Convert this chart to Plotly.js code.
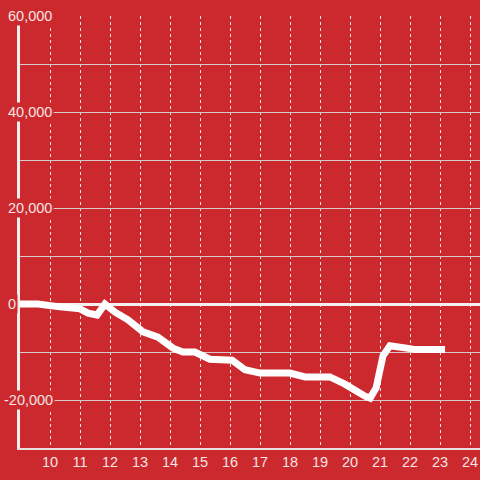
<!DOCTYPE html>
<html>
<head>
<meta charset="utf-8">
<script src="https://cdn.plot.ly/plotly-3.0.1.min.js"></script>
<style>
html,body{margin:0;padding:0;background:#cc292e;}
#chart{width:480px;height:480px;}
</style>
</head>
<body>
<div id="chart"></div>
<script>
var xs = [9.0, 9.6, 10.33, 11.0, 11.27, 11.57, 11.83, 12.17, 12.6, 13.1, 13.6, 14.1, 14.43, 14.83, 15.33, 16.07, 16.5, 17.0, 18.0, 18.5, 19.33, 19.83, 20.5, 20.67, 20.87, 21.1, 21.33, 21.73, 22.0, 22.17, 23.17];
var ys = [0, 0, -600, -1000, -1900, -2300, 0, -1700, -3300, -5800, -6900, -9200, -10000, -10000, -11500, -11700, -13700, -14400, -14400, -15200, -15200, -16700, -19200, -19600, -17500, -10800, -8700, -8900, -9300, -9500, -9500];
var yTickVals = [60000, 40000, 20000, 0, -20000];
var yTickText = ["60,000", "40,000", "20,000", "0", "-20,000"];
var xTickVals = [10, 11, 12, 13, 14, 15, 16, 17, 18, 19, 20, 21, 22, 23, 24];

var bg = '#cc292e';
var txt = '#f5e4e4';

var annotations = yTickVals.map(function (v, i) {
  var leftPx = v < 0 ? 2 : 6;
  return {
    xref: 'paper', yref: 'y', x: (leftPx - 20) / 460, y: v,
    xanchor: 'left', yanchor: 'middle',
    text: yTickText[i], showarrow: false,
    bgcolor: bg, borderpad: 1,
    font: {family: 'Liberation Sans, Arial, sans-serif', size: 14.5, color: txt}
  };
});

var trace = {
  x: xs, y: ys, type: 'scatter', mode: 'lines',
  line: {color: '#ffffff', width: 7},
  hoverinfo: 'skip'
};

var layout = {
  width: 480, height: 480,
  paper_bgcolor: bg, plot_bgcolor: bg,
  margin: {l: 20, r: 0, t: 16, b: 32, pad: 0},
  showlegend: false,
  font: {family: 'Liberation Sans, Arial, sans-serif', size: 14, color: txt},
  xaxis: {
    range: [9, 24.3333], tickvals: xTickVals, ticktext: xTickVals.map(String),
    showgrid: true, gridcolor: '#f0e6e6', griddash: 'dot', gridwidth: 1,
    showline: true, linecolor: '#e6e0e0', linewidth: 2,
    zeroline: false, ticks: '', ticklen: 0,
    tickfont: {family: 'Liberation Sans, Arial, sans-serif', size: 14.5, color: txt}
  },
  yaxis: {
    range: [-30000, 60000], dtick: 10000, tick0: 0,
    showticklabels: false, ticks: '',
    showgrid: true, gridcolor: '#d9c8c8', gridwidth: 1,
    zeroline: true, zerolinecolor: '#f5f0f0', zerolinewidth: 3,
    showline: true, linecolor: '#f2eeee', linewidth: 3
  },
  annotations: annotations
};

Plotly.newPlot('chart', [trace], layout, {staticPlot: true, displayModeBar: false});
</script>
</body>
</html>
